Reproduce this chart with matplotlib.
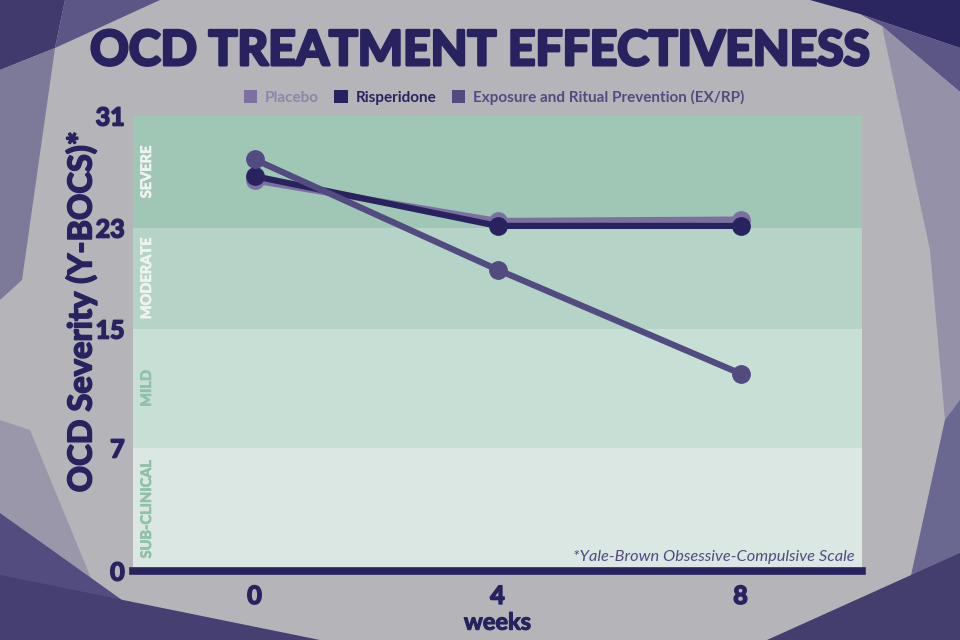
import numpy as np
import matplotlib
matplotlib.use("Agg")
import matplotlib.pyplot as plt
from matplotlib.patches import Polygon, Patch
import matplotlib.patheffects as pe

# ---- data ----
weeks = [0, 4, 8]
placebo = [26.4, 23.5, 23.6]
risperidone = [26.7, 23.15, 23.15]
exrp = [27.9, 19.7, 12.0]
series_names = ["Placebo", "Risperidone", "Exposure and Ritual Prevention (EX/RP)"]
y_ticks = [0, 7, 15, 23, 31]
band_edges = [0, 7, 15, 23, 31]
band_names = ["SUB-CLINICAL", "MILD", "MODERATE", "SEVERE"]

# ---- style ----
NAVY = "#28235f"
PURPLE = "#524b80"
LIGHTP = "#7c70a0"
BG = "#b4b4b9"
band_colors = ["#dbe7e2", "#c7dfd4", "#b5d3c6", "#a0c6b5"]
band_text = ["#8fc0aa", "#8fc0aa", "#eef4f1", "#eef4f1"]

W, H = 960, 640
fig = plt.figure(figsize=(W / 100, H / 100), dpi=100, facecolor=BG)

def P(pts):
    return [(x / W, 1 - y / H) for x, y in pts]

shapes = [
    ([(0, 0), (65, 0), (55, 48), (0, 70)], "#403b6c"),
    ([(65, 0), (160, 0), (55, 48)], "#5b5686"),
    ([(0, 70), (55, 48), (22, 280), (0, 300)], "#7d7999"),
    ([(0, 420), (30, 430), (100, 600), (0, 560)], "#9a97ab"),
    ([(0, 513), (122, 600), (105, 640), (0, 640)], "#524d7e"),
    ([(0, 575), (320, 640), (0, 640)], "#453f72"),
    ([(810, 0), (960, 0), (960, 48), (860, 14)], "#2b2660"),
    ([(860, 14), (960, 48), (960, 92), (882, 26)], "#5b5686"),
    ([(882, 26), (960, 92), (960, 640), (897, 640), (945, 420), (930, 250)], "#9591a9"),
    ([(945, 420), (960, 400), (960, 640), (897, 640)], "#6a6790"),
    ([(767, 640), (960, 553), (960, 640)], "#433e6e"),
]
for pts, c in shapes:
    fig.patches.append(Polygon(P(pts), closed=True, transform=fig.transFigure,
                               facecolor=c, edgecolor="none", zorder=0))

ax = fig.add_axes([133 / W, 1 - 571 / H, (862 - 133) / W, (571 - 116) / H])
ax.set_facecolor("none")

# piecewise-linear y scale matching the original's band spacing
pix = [0, 123, 242, 343, 455]
fwd = lambda v: np.interp(v, y_ticks, pix)
inv = lambda p: np.interp(p, pix, y_ticks)
ax.set_yscale("function", functions=(fwd, inv))
ax.set_ylim(0, 31)
ax.set_xlim(-2, 10)

for i in range(4):
    ax.axhspan(band_edges[i], band_edges[i + 1], color=band_colors[i], zorder=0, lw=0)
    mid = inv((fwd(band_edges[i]) + fwd(band_edges[i + 1])) / 2)
    ax.text(-1.77, mid, band_names[i], rotation=90, ha="center", va="center",
            color=band_text[i], fontsize=10.5, fontweight="bold", family="Lato", zorder=1,
            path_effects=[pe.withStroke(linewidth=0.5, foreground=band_text[i])])

lw, ms = 4.5, 12.5
ax.plot(weeks, placebo, color=LIGHTP, lw=lw, marker="o", ms=ms, zorder=3, solid_capstyle="round")
ax.plot(weeks, risperidone, color=NAVY, lw=lw, marker="o", ms=ms, zorder=4, solid_capstyle="round")
ax.plot(weeks, exrp, color=PURPLE, lw=lw, marker="o", ms=ms, zorder=5, solid_capstyle="round")

for s in ["top", "right", "left"]:
    ax.spines[s].set_visible(False)
ax.spines["bottom"].set_color(NAVY)
ax.spines["bottom"].set_linewidth(5.5)
ax.spines["bottom"].set_zorder(6)

heavy = [pe.withStroke(linewidth=1.2, foreground=NAVY)]
ax.set_yticks(y_ticks)
ax.set_yticklabels([str(t) for t in y_ticks])
ax.set_xticks(weeks)
ax.set_xticklabels([str(w) for w in weeks])
ax.tick_params(length=0, colors=NAVY, labelsize=18)
ax.tick_params(axis="y", pad=6)
ax.tick_params(axis="x", pad=10)
for lab in ax.get_xticklabels() + ax.get_yticklabels():
    lab.set_fontweight("bold")
    lab.set_family("Lato")
    lab.set_path_effects(heavy)

ax.set_xlabel("weeks", fontsize=17, fontweight="bold", color=NAVY, family="Lato", labelpad=2,
              path_effects=[pe.withStroke(linewidth=0.8, foreground=NAVY)])
ax.set_ylabel("OCD Severity (Y-BOCS)*", fontsize=23.5, fontweight="bold", color=NAVY,
              family="Lato", path_effects=[pe.withStroke(linewidth=1.2, foreground=NAVY)])
ax.yaxis.set_label_coords(-0.05, 0.57)

ax.text(0.99, 0.015, "*Yale-Brown Obsessive-Compulsive Scale", transform=ax.transAxes,
        ha="right", va="bottom", fontsize=11.8, style="italic", color=PURPLE, family="Lato")

fig.text(0.5, 1 - 51 / H, "OCD TREATMENT EFFECTIVENESS", ha="center", va="center",
         fontsize=34.5, fontweight="bold", color=NAVY, family="Lato",
         path_effects=[pe.withStroke(linewidth=2.2, foreground=NAVY)])

handles = [Patch(facecolor=LIGHTP), Patch(facecolor=NAVY), Patch(facecolor=PURPLE)]
leg = fig.legend(handles, series_names, loc="center", bbox_to_anchor=(494 / W, 1 - 97 / H),
                 ncol=3, frameon=False, handlelength=0.9, handleheight=0.9,
                 handletextpad=0.5, columnspacing=1.0,
                 prop={"family": "Lato", "weight": "bold", "size": 11})
for t, c in zip(leg.get_texts(), ["#8d86ab", NAVY, PURPLE]):
    t.set_color(c)

fig.savefig("out.png", dpi=100, facecolor=BG)
